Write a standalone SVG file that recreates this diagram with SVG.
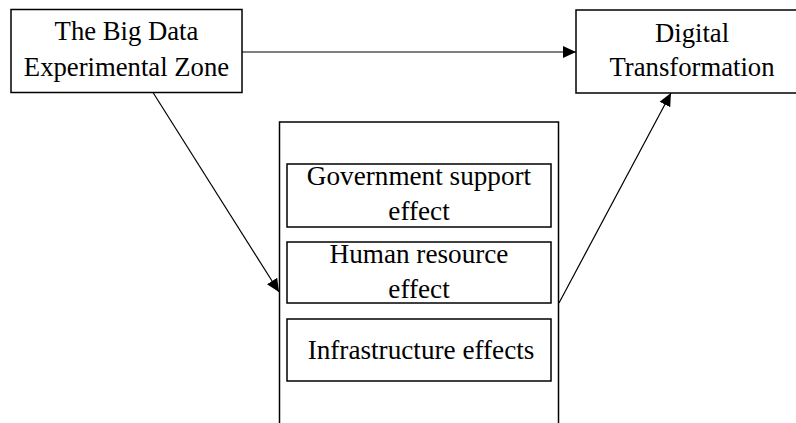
<svg xmlns="http://www.w3.org/2000/svg" width="796" height="423" viewBox="0 0 796 423">
<style>
.box{fill:#fff;stroke:#000;stroke-width:1.5}
.t{font-family:"Liberation Serif","Times New Roman",serif;font-size:26.7px;fill:#000;text-anchor:middle}
.ti{font-size:27.2px}
.c{stroke:#000;stroke-width:1.2;fill:none;marker-end:url(#ah)}
</style>
<defs>
<marker id="ah" markerUnits="userSpaceOnUse" markerWidth="13" markerHeight="13" viewBox="0 0 13 13" refX="13" refY="6.5" orient="auto">
<path d="M0,0.5 L13,6.5 L0,12.5 Z" fill="#000"/>
</marker>
</defs>
<rect x="0" y="0" width="796" height="423" fill="#fff"/>
<g id="node-bigdata">
<rect class="box" x="11" y="9.5" width="231" height="83"/>
<text class="t" x="126.5" y="40">The Big Data</text>
<text class="t" x="126.5" y="76">Experimental Zone</text>
</g>
<g id="node-digital">
<rect class="box" x="576" y="10" width="240" height="83"/>
<text class="t" x="692" y="42">Digital</text>
<text class="t" x="692" y="76">Transformation</text>
</g>
<g id="node-mechanism">
<rect class="box" x="279.5" y="122" width="279" height="320"/>
</g>
<g id="node-gov">
<rect class="box" x="287" y="164" width="264" height="63"/>
<text class="t ti" x="419" y="185">Government support</text>
<text class="t ti" x="419" y="220">effect</text>
</g>
<g id="node-human">
<rect class="box" x="287" y="242" width="264" height="61"/>
<text class="t ti" x="419" y="263">Human resource</text>
<text class="t ti" x="419" y="298">effect</text>
</g>
<g id="node-infra">
<rect class="box" x="287" y="319" width="264" height="62"/>
<text class="t ti" x="421" y="359">Infrastructure effects</text>
</g>
<g id="connectors">
<line class="c" x1="242" y1="52" x2="576" y2="52"/>
<line class="c" x1="153" y1="92.5" x2="279" y2="292"/>
<line class="c" x1="559" y1="303" x2="671" y2="93"/>
</g>
</svg>
